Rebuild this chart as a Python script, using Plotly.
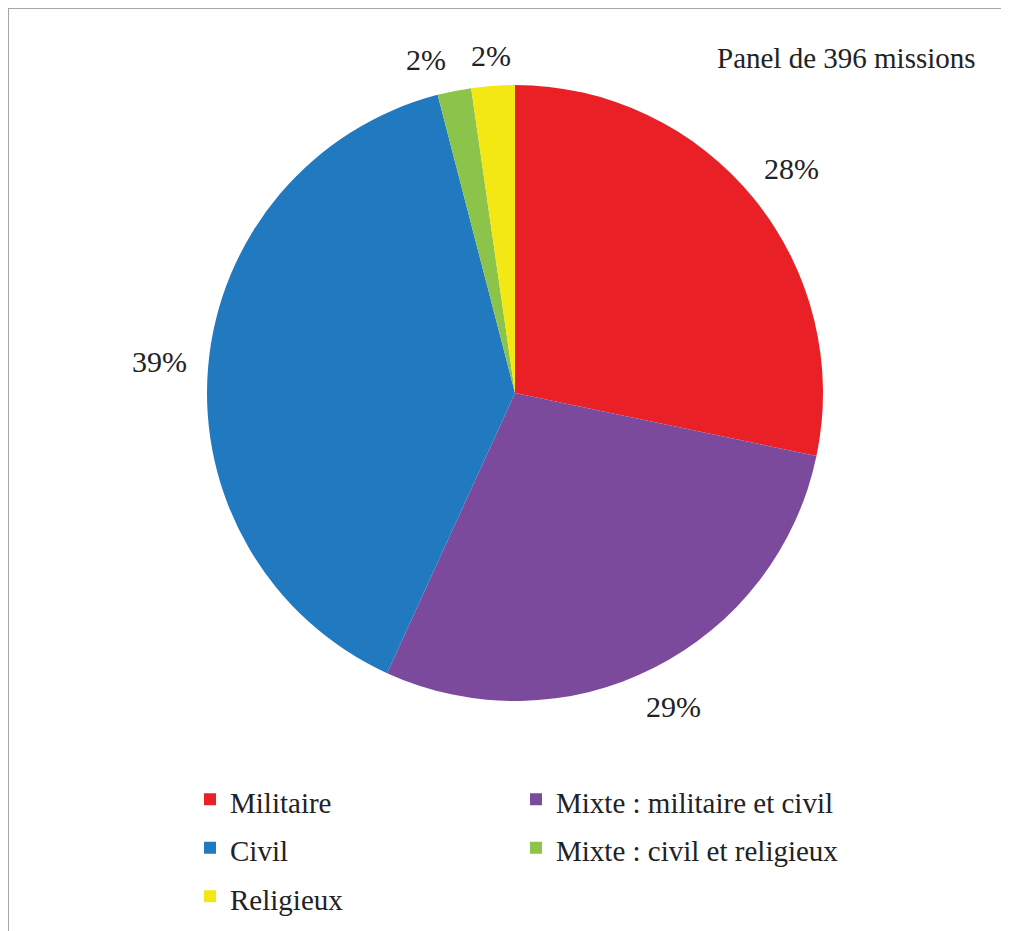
import math
import plotly.graph_objects as go

# data: number of missions per type (panel of 396)
labels = ["Militaire", "Mixte : militaire et civil", "Civil",
          "Mixte : civil et religieux", "Religieux"]
counts = [112, 113, 155, 7, 9]
colors = ["#E92127", "#7B4A9D", "#2179BF", "#8CC34B", "#F3E714"]

OFF = 8                      # page body margin
W, H = 1009 - OFF, 931 - OFF
ML, MR = 150, 151            # narrower plot area -> two legend entries per row
PW, PH = W - ML - MR, H
cx, cy, r = 515 - OFF, 393 - OFF, 308
FONT = "Liberation Serif"


def xp(px):
    return (px - ML) / PW


def yp(py):
    return 1 - py / PH


fig = go.Figure(go.Pie(
    labels=[f"<span style='font-size:29px'>{l}</span>" for l in labels],
    values=counts,
    sort=False,
    direction="clockwise",
    rotation=0,
    marker=dict(colors=colors, line=dict(width=0)),
    textinfo="none",
    hoverinfo="label+percent",
    domain=dict(x=[xp(cx - r), xp(cx + r)], y=[yp(cy + r), yp(cy - r)]),
))

# percentage labels outside the slices
total = sum(counts)
shares = [v / total for v in counts]
cum = 0
for i, pct in enumerate(shares):
    mid = (cum + pct / 2) * 2 * math.pi
    cum += pct
    txt = f"{round(pct * 100)}%"
    small = pct < 0.05
    nxt_small = i + 1 < len(shares) and shares[i + 1] < 0.05
    hw = len(txt) * 7.5
    hh = 3 if small else 8
    d = r + 26 + hw * abs(math.sin(mid)) + hh * abs(math.cos(mid))
    fig.add_annotation(x=xp(cx + d * math.sin(mid)), y=yp(cy - d * math.cos(mid)),
                       xref="paper", yref="paper",
                       text=txt, showarrow=False,
                       xanchor="right" if (small and nxt_small) else "center",
                       yanchor="middle",
                       font=dict(size=30, color="#222222", family=FONT))

fig.add_annotation(x=xp(978 - OFF), y=yp(58 - OFF), xref="paper", yref="paper",
                   text="Panel de 396 missions", showarrow=False,
                   xanchor="right", yanchor="middle",
                   font=dict(size=29, color="#222222", family=FONT))

# chart frame
fig.add_shape(type="rect", xref="paper", yref="paper",
              x0=xp(0), x1=xp(W + 20), y0=yp(H + 20), y1=yp(0),
              line=dict(color="#A6A6A6", width=2))

fig.update_layout(
    width=W, height=H,
    margin=dict(l=ML, r=MR, t=0, b=0, autoexpand=False),
    paper_bgcolor="white",
    plot_bgcolor="white",
    font=dict(family=FONT, color="#222222"),
    showlegend=True,
    legend=dict(orientation="h", x=xp(182), y=yp(762),
                xanchor="left", yanchor="top",
                entrywidth=281, entrywidthmode="pixels",
                font=dict(size=35, color="#222222", family=FONT),
                bgcolor="rgba(0,0,0,0)"),
)

fig.write_html("out.html")
